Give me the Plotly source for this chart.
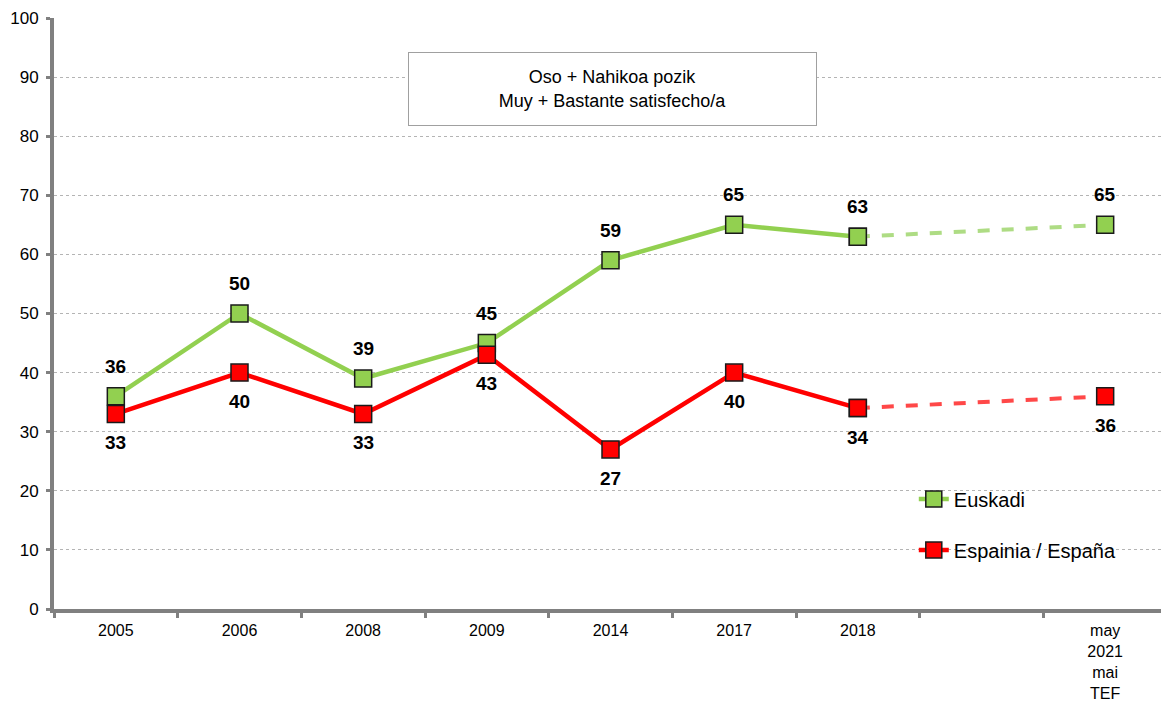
import plotly.graph_objects as go

categories = ["2005", "2006", "2008", "2009", "2014", "2017", "2018", " ", "may<br>2021<br>mai<br>TEF"]
euskadi = [36, 50, 39, 45, 59, 65, 63, None, 65]
espana = [33, 40, 33, 43, 27, 40, 34, None, 36]
y_ticks = [0, 10, 20, 30, 40, 50, 60, 70, 80, 90, 100]

GREEN = "#92D050"
GREEN_LIGHT = "#AEDC84"
RED = "#FF0000"
RED_LIGHT = "#FF4848"
FONT = "Liberation Sans, Arial, sans-serif"
MSIZE = 17

fig = go.Figure()

solid_idx = list(range(7))
fig.add_trace(go.Scatter(
    x=[categories[i] for i in solid_idx], y=[euskadi[i] for i in solid_idx],
    mode="lines+markers", name="Euskadi", legendgroup="a",
    line=dict(color=GREEN, width=4.5),
    marker=dict(symbol="square", size=MSIZE, color=GREEN, line=dict(color="#1a1a1a", width=1.5)),
))
fig.add_trace(go.Scatter(
    x=[categories[i] for i in solid_idx], y=[espana[i] for i in solid_idx],
    mode="lines+markers", name="Espainia / España", legendgroup="b",
    line=dict(color=RED, width=4.5),
    marker=dict(symbol="square", size=MSIZE, color=RED, line=dict(color="#1a1a1a", width=1.5)),
))
# projected dashed segments
fig.add_trace(go.Scatter(
    x=[categories[6], categories[8]], y=[euskadi[6], euskadi[8]],
    mode="lines", showlegend=False,
    line=dict(color=GREEN_LIGHT, width=4, dash="dash"),
))
fig.add_trace(go.Scatter(
    x=[categories[6], categories[8]], y=[espana[6], espana[8]],
    mode="lines", showlegend=False,
    line=dict(color=RED_LIGHT, width=4, dash="dash"),
))
fig.add_trace(go.Scatter(
    x=[categories[6], categories[8]], y=[euskadi[6], euskadi[8]],
    mode="markers", showlegend=False,
    marker=dict(symbol="square", size=MSIZE, color=GREEN, line=dict(color="#1a1a1a", width=1.5)),
))
fig.add_trace(go.Scatter(
    x=[categories[6], categories[8]], y=[espana[6], espana[8]],
    mode="markers", showlegend=False,
    marker=dict(symbol="square", size=MSIZE, color=RED, line=dict(color="#1a1a1a", width=1.5)),
))

annotations = []
for i, v in enumerate(euskadi):
    if v is not None:
        annotations.append(dict(x=i, y=v, xref="x", yref="y", text=f"<b>{v}</b>", showarrow=False,
                                yshift=30, font=dict(size=19, color="black", family=FONT)))
for i, v in enumerate(espana):
    if v is not None:
        annotations.append(dict(x=i, y=v, xref="x", yref="y", text=f"<b>{v}</b>", showarrow=False,
                                yshift=-29, font=dict(size=19, color="black", family=FONT)))

annotations.append(dict(
    xref="paper", yref="paper", x=0.5018, y=0.8805, xanchor="center", yanchor="middle",
    text="Oso + Nahikoa pozik<br>Muy + Bastante satisfecho/a", showarrow=False,
    font=dict(size=18, color="black", family=FONT), align="center",
    bordercolor="#A0A0A0", borderwidth=1, bgcolor="white",
    width=405, height=70,
))

fig.update_layout(
    width=1161, height=694,
    margin=dict(l=46, r=2, t=10, b=93),
    paper_bgcolor="white", plot_bgcolor="white",
    font=dict(family=FONT, size=17, color="black"),
    annotations=annotations,
    shapes=[dict(type="rect", xref="paper", yref="y", x0=0.72, x1=1.0, y0=4.5, y1=23.5,
                 fillcolor="white", line=dict(width=0), layer="between")],
    showlegend=True,
    legend=dict(x=0.7725, y=0.219, xanchor="left", yanchor="top",
                bgcolor="rgba(0,0,0,0)", font=dict(size=20, color="black", family=FONT),
                traceorder="grouped", tracegroupgap=22, itemwidth=30),
    xaxis=dict(
        type="category", categoryorder="array", categoryarray=categories,
        range=[-0.5, 8.5], automargin=False,
        showline=True, linecolor="#808080", linewidth=4,
        ticks="outside", tickson="boundaries", ticklen=5, tickwidth=3, tickcolor="#808080",
        showgrid=False, tickfont=dict(size=16, color="black"), ticklabelstandoff=4,
    ),
    yaxis=dict(
        range=[0, 100], tickvals=y_ticks, automargin=False,
        showline=True, linecolor="#808080", linewidth=4,
        ticks="outside", ticklen=4, tickwidth=3, tickcolor="#808080",
        showgrid=True, gridcolor="#B4B4B4", griddash="3px,3px", gridwidth=1,
        zeroline=False, tickfont=dict(size=17, color="black"), ticklabelstandoff=4,
    ),
)

fig.write_html("out.html")
